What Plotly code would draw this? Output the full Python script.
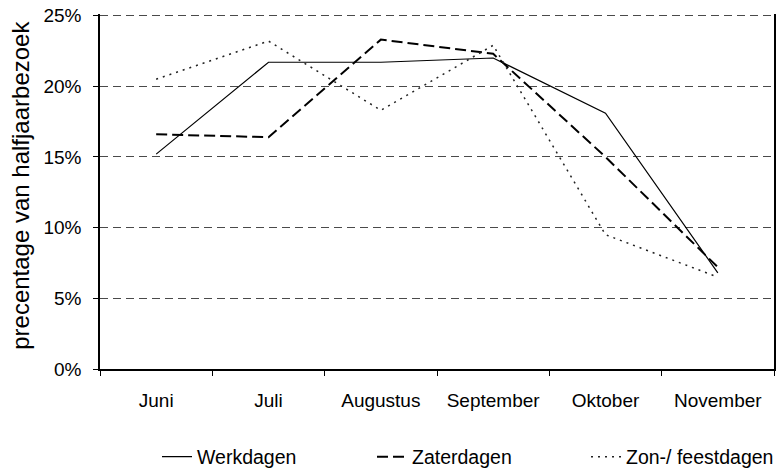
import plotly.graph_objects as go

months = ["Juni", "Juli", "Augustus", "September", "Oktober", "November"]
werkdagen = [15.2, 21.7, 21.7, 22.0, 18.1, 6.8]
zaterdagen = [16.6, 16.4, 23.3, 22.3, 15.0, 7.2]
zon_feestdagen = [20.5, 23.2, 18.3, 22.9, 9.5, 6.5]
y_ticks = [0, 5, 10, 15, 20, 25]
y_ticklabels = ["0%", "5%", "10%", "15%", "20%", "25%"]

FONT = "Liberation Sans, Arial, sans-serif"

# the page body adds an 8px offset around the figure
W, H = 768, 460
OFF = 8
PLOT_L, PLOT_R, PLOT_T, PLOT_B = 100, 774, 16, 369   # page pixels of the plot frame
EXTRA = 1.6                                          # px above the 25% line so its gridline is kept
Y_MAX = 25 + EXTRA * 25 / (PLOT_B - PLOT_T)
LEG_Y = 1 - (457 - OFF) / H

fig = go.Figure()
fig.add_trace(go.Scatter(x=months, y=werkdagen, name="Werkdagen", mode="lines",
                         line=dict(color="black", width=1.2), legend="legend"))
fig.add_trace(go.Scatter(x=months, y=zaterdagen, name="Zaterdagen", mode="lines",
                         line=dict(color="black", width=2, dash="11px,5px"), legend="legend2"))
fig.add_trace(go.Scatter(x=months, y=zon_feestdagen, name="Zon-/ feestdagen", mode="lines",
                         line=dict(color="#222222", width=1.5, dash="2px,5px"), legend="legend3"))


def leg(page_x):
    return dict(orientation="h", xref="container", yref="container",
                x=(page_x - OFF) / W, y=LEG_Y, xanchor="left", yanchor="middle",
                font=dict(size=19.5, family=FONT, color="black"), itemwidth=30,
                bgcolor="rgba(0,0,0,0)")


fig.update_layout(
    width=W, height=H,
    margin=dict(l=PLOT_L - OFF, r=W - (PLOT_R - OFF), t=PLOT_T - OFF - EXTRA,
                b=H - (PLOT_B - OFF), autoexpand=False),
    paper_bgcolor="white", plot_bgcolor="white",
    font=dict(family=FONT, color="black", size=19),
    showlegend=True,
    legend=leg(157), legend2=leg(372), legend3=leg(586),
    xaxis=dict(type="category", tickson="boundaries", ticks="outside", ticklen=5,
               tickcolor="black", showline=True, linecolor="black", linewidth=1.5,
               showgrid=False, tickfont=dict(size=19), range=[-0.5, 5.5],
               ticklabelstandoff=13, ticklabeloverflow="allow"),
    yaxis=dict(range=[0, Y_MAX], tickvals=y_ticks, ticktext=y_ticklabels,
               ticks="outside", ticklen=5, tickcolor="black",
               showline=True, linecolor="black", linewidth=1.5, mirror=True,
               showgrid=True, gridcolor="#4a4a4a", gridwidth=1, griddash="8px,5px",
               zeroline=False, tickfont=dict(size=19), ticklabelstandoff=8,
               ticklabeloverflow="allow"),
    annotations=[dict(text="precentage van halfjaarbezoek", textangle=-90,
                      xref="paper", yref="paper", x=(21 - PLOT_L) / (PLOT_R - PLOT_L),
                      y=(369 - 186) / (353 + EXTRA),
                      xanchor="center", yanchor="middle", showarrow=False,
                      font=dict(size=24, family=FONT, color="black"))],
)

fig.write_html("out.html")
